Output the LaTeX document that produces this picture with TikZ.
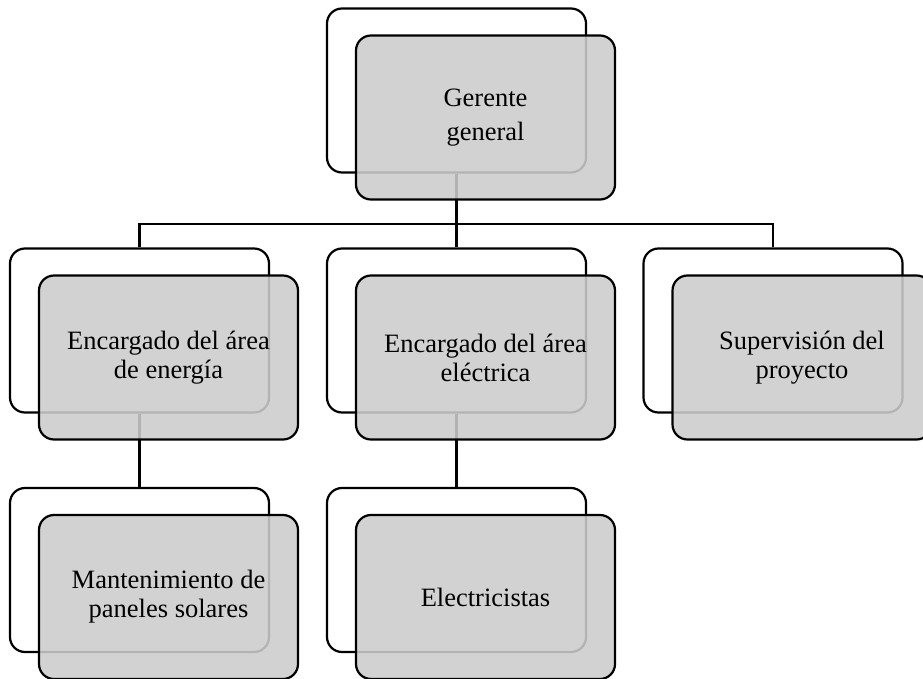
\documentclass[tikz,border=0pt]{standalone}
\usepackage{fontspec}
\setmainfont{Liberation Serif}
\definecolor{cardfill}{RGB}{204,204,204}

\begin{document}
\begin{tikzpicture}[x=1pt,y=-1pt,
  card/.style={rounded corners=15pt,line width=2.2pt,minimum width=259pt,minimum height=164pt,inner sep=0pt},
  backcard/.style={card,draw,fill=white},
  frontcard/.style={card,draw,fill=cardfill,fill opacity=0.88,text opacity=1,align=center,
    font=\fontsize{26.5}{29}\selectfont},
  link/.style={line width=2.2pt}]
 \useasboundingbox (0,0) rectangle (923,679);
 \foreach \n/\x/\y in {ger/456.5/90.5,ene/139.5/330.5,ele/456.5/330.5,
   sup/773/330.5,man/139.5/570,elc/456.5/570}
   \node[backcard] (\n-b) at (\x,\y) {};
 \coordinate (bus) at (456.5,224);
 \draw[link] (ger-b.south) -- (ele-b.north);
 \draw[link] (ene-b.north) |- (bus) -| (sup-b.north);
 \draw[link] (ene-b.south) -- (man-b.north);
 \draw[link] (ele-b.south) -- (elc-b.north);
 \foreach \n/\t in {ger/{Gerente\\[5pt]general},ene/{Encargado del área\\de energía},
   ele/{Encargado del área\\eléctrica},sup/{Supervisión del\\proyecto},
   man/{Mantenimiento de\\paneles solares},elc/{Electricistas}}
   \node[frontcard] (\n) at ([shift={(29,27)}]\n-b) {\t};
\end{tikzpicture}
\end{document}
